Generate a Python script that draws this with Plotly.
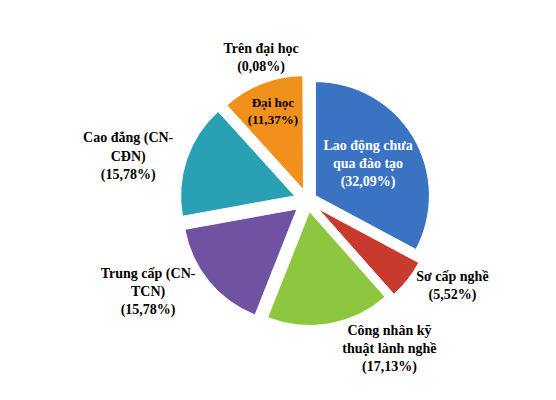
import plotly.graph_objects as go

labels = ["Lao động chưa<br>qua đào tạo", "Sơ cấp nghề", "Công nhân kỹ<br>thuật lành nghề",
          "Trung cấp (CN-<br>TCN)", "Cao đẳng (CN-<br>CĐN)", "Đại học", "Trên đại học"]
values = [32.09, 5.52, 17.13, 15.78, 15.78, 11.37, 0.08]
value_text = ["32,09%", "5,52%", "17,13%", "15,78%", "15,78%", "11,37%", "0,08%"]
colors = ["#3a73c2", "#c8392e", "#8dc63f", "#7052a3", "#2aa0b5", "#f2901c", "#dddddd"]

text = [f"<b>{l}<br>({v})</b>" for l, v in zip(labels, value_text)]
positions = ["inside", "outside", "outside", "outside", "outside", "inside", "outside"]
font_colors = ["white", "black", "black", "black", "black", "black", "black"]

fig = go.Figure(go.Pie(
    values=values,
    text=text,
    textinfo="text",
    textposition=positions,
    insidetextorientation="horizontal",
    textfont=dict(family="Liberation Serif", size=14, color=font_colors),
    marker=dict(colors=colors, line=dict(color="white", width=1)),
    sort=False,
    direction="clockwise",
    rotation=0,
    pull=[0.08, 0.12, 0.1, 0.12, 0.12, 0.1, 0.1],
    domain=dict(x=[0.14, 0.88], y=[0.0, 0.96]),
    showlegend=False,
    hoverinfo="none",
))
fig.update_layout(
    width=556, height=400,
    margin=dict(l=0, r=0, t=0, b=0),
    paper_bgcolor="white",
)
fig.write_html("out.html")
